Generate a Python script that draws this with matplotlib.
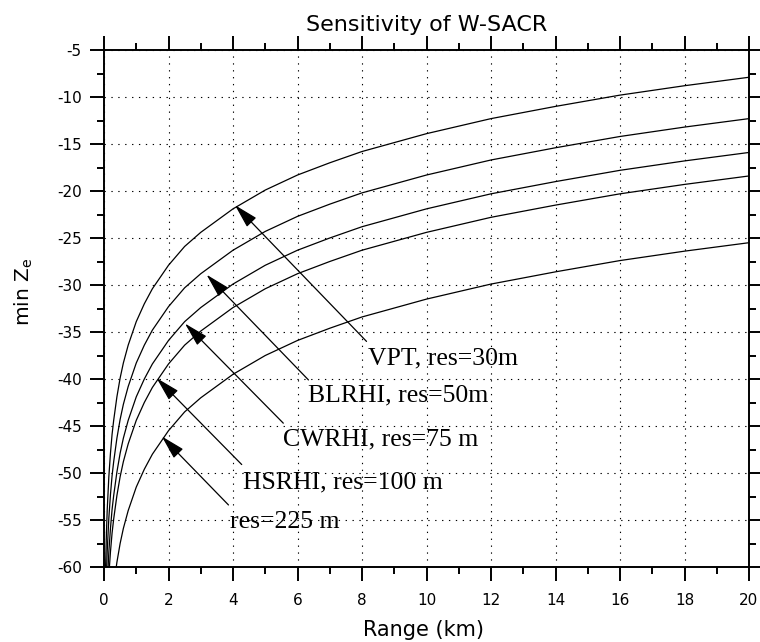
import matplotlib
matplotlib.use('Agg')
import matplotlib.pyplot as plt

plt.rcParams['font.family'] = ['DejaVu Sans']
plt.rcParams['axes.unicode_minus'] = False
plt.rcParams['mathtext.default'] = 'regular'

# range gates (km)
range_km = [0.03, 0.05, 0.075, 0.1, 0.15, 0.2, 0.25, 0.3, 0.4, 0.5, 0.6, 0.75,
            1, 1.25, 1.5, 2, 2.5, 3, 4, 5, 6, 7, 8, 10, 12, 14, 16, 18, 20]

# min Ze (dBZ) for each mode
vpt = [-64.4, -59.9, -56.4, -53.9, -50.4, -47.9, -45.9, -44.4, -41.9, -39.9, -38.3, -36.4,
       -33.9, -32.0, -30.4, -27.9, -25.9, -24.4, -21.9, -19.9, -18.3, -17.0, -15.8, -13.9,
       -12.3, -11.0, -9.8, -8.8, -7.9]
blrhi = [-68.8, -64.3, -60.8, -58.3, -54.8, -52.3, -50.3, -48.8, -46.3, -44.3, -42.7, -40.8,
         -38.3, -36.4, -34.8, -32.3, -30.3, -28.8, -26.3, -24.3, -22.7, -21.4, -20.2, -18.3,
         -16.7, -15.4, -14.2, -13.2, -12.3]
cwrhi = [-72.4, -67.9, -64.4, -61.9, -58.4, -55.9, -53.9, -52.4, -49.9, -47.9, -46.3, -44.4,
         -41.9, -40.0, -38.4, -35.9, -33.9, -32.4, -29.9, -27.9, -26.3, -25.0, -23.8, -21.9,
         -20.3, -19.0, -17.8, -16.8, -15.9]
hsrhi = [-74.9, -70.4, -66.9, -64.4, -60.9, -58.4, -56.4, -54.9, -52.4, -50.4, -48.8, -46.9,
         -44.4, -42.5, -40.9, -38.4, -36.4, -34.9, -32.4, -30.4, -28.8, -27.5, -26.3, -24.4,
         -22.8, -21.5, -20.3, -19.3, -18.4]
res225 = [-82.0, -77.5, -74.0, -71.5, -68.0, -65.5, -63.5, -62.0, -59.5, -57.5, -55.9, -54.0,
          -51.5, -49.6, -48.0, -45.5, -43.5, -42.0, -39.5, -37.5, -35.9, -34.6, -33.4, -31.5,
          -29.9, -28.6, -27.4, -26.4, -25.5]

labels = ['VPT, res=30m', 'BLRHI, res=50m', 'CWRHI, res=75 m', 'HSRHI, res=100 m', 'res=225 m']

fig = plt.figure(figsize=(7.6, 6.42), dpi=100)
ax = fig.add_axes([104/760, 1 - 567/642, 645/760, 517/642])

for ze in [vpt, blrhi, cwrhi, hsrhi, res225]:
    ax.plot(range_km, ze, color='k', lw=0.9, zorder=3)

ax.set_xlim(0, 20)
ax.set_ylim(-60, -5)
ax.set_xticks(range(0, 21, 2))
ax.set_xticks(range(0, 21, 1), minor=True)
ax.set_yticks(range(-60, -4, 5))
ax.set_yticks([-60 + 2.5 * i for i in range(23)], minor=True)

# IDL-ish axes: outward ticks on all four sides
ax.tick_params(which='both', direction='out', top=True, right=True, width=1.4, labelsize=11)
ax.tick_params(which='major', length=10, pad=6)
ax.tick_params(axis='x', which='major', pad=9)
ax.tick_params(which='minor', length=5)
for s in ax.spines.values():
    s.set_linewidth(1.4)

ax.grid(True, which='major', color='k', lw=0.8, ls=(0, (1.2, 5)), zorder=1)

# arrows: tip on the curve, tail near the label
tips = [(4.06, -21.5), (3.18, -28.9), (2.51, -34.1), (1.63, -39.9), (1.79, -46.1)]
tails = [(8.14, -36.0), (6.34, -40.1), (5.56, -44.7), (4.27, -49.1), (3.86, -53.4)]
text_pos = [(8.2, -38.4), (6.33, -42.4), (5.56, -47.1), (4.32, -51.6), (3.91, -55.9)]

for lab, tip, tail, tp in zip(labels, tips, tails, text_pos):
    ax.annotate('', xy=tip, xytext=tail,
                arrowprops=dict(arrowstyle='-|>,head_length=1.5,head_width=0.4',
                                color='k', lw=0.9, shrinkA=0, shrinkB=0,
                                mutation_scale=10),
                zorder=4)
    ax.text(tp[0], tp[1], lab, family='Liberation Serif', fontsize=18.5,
            ha='left', va='baseline', zorder=5)

fig.text(426.5/760, 1 - 31/642, 'Sensitivity of W-SACR', ha='center', va='baseline', fontsize=16)
fig.text(424/760, 1 - 636/642, 'Range (km)', ha='center', va='baseline', fontsize=15)
fig.text(24/760, 1 - 292/642, 'min Z$_e$', ha='center', va='center', rotation=90, fontsize=14.5)

plt.savefig('out.png', dpi=100)
